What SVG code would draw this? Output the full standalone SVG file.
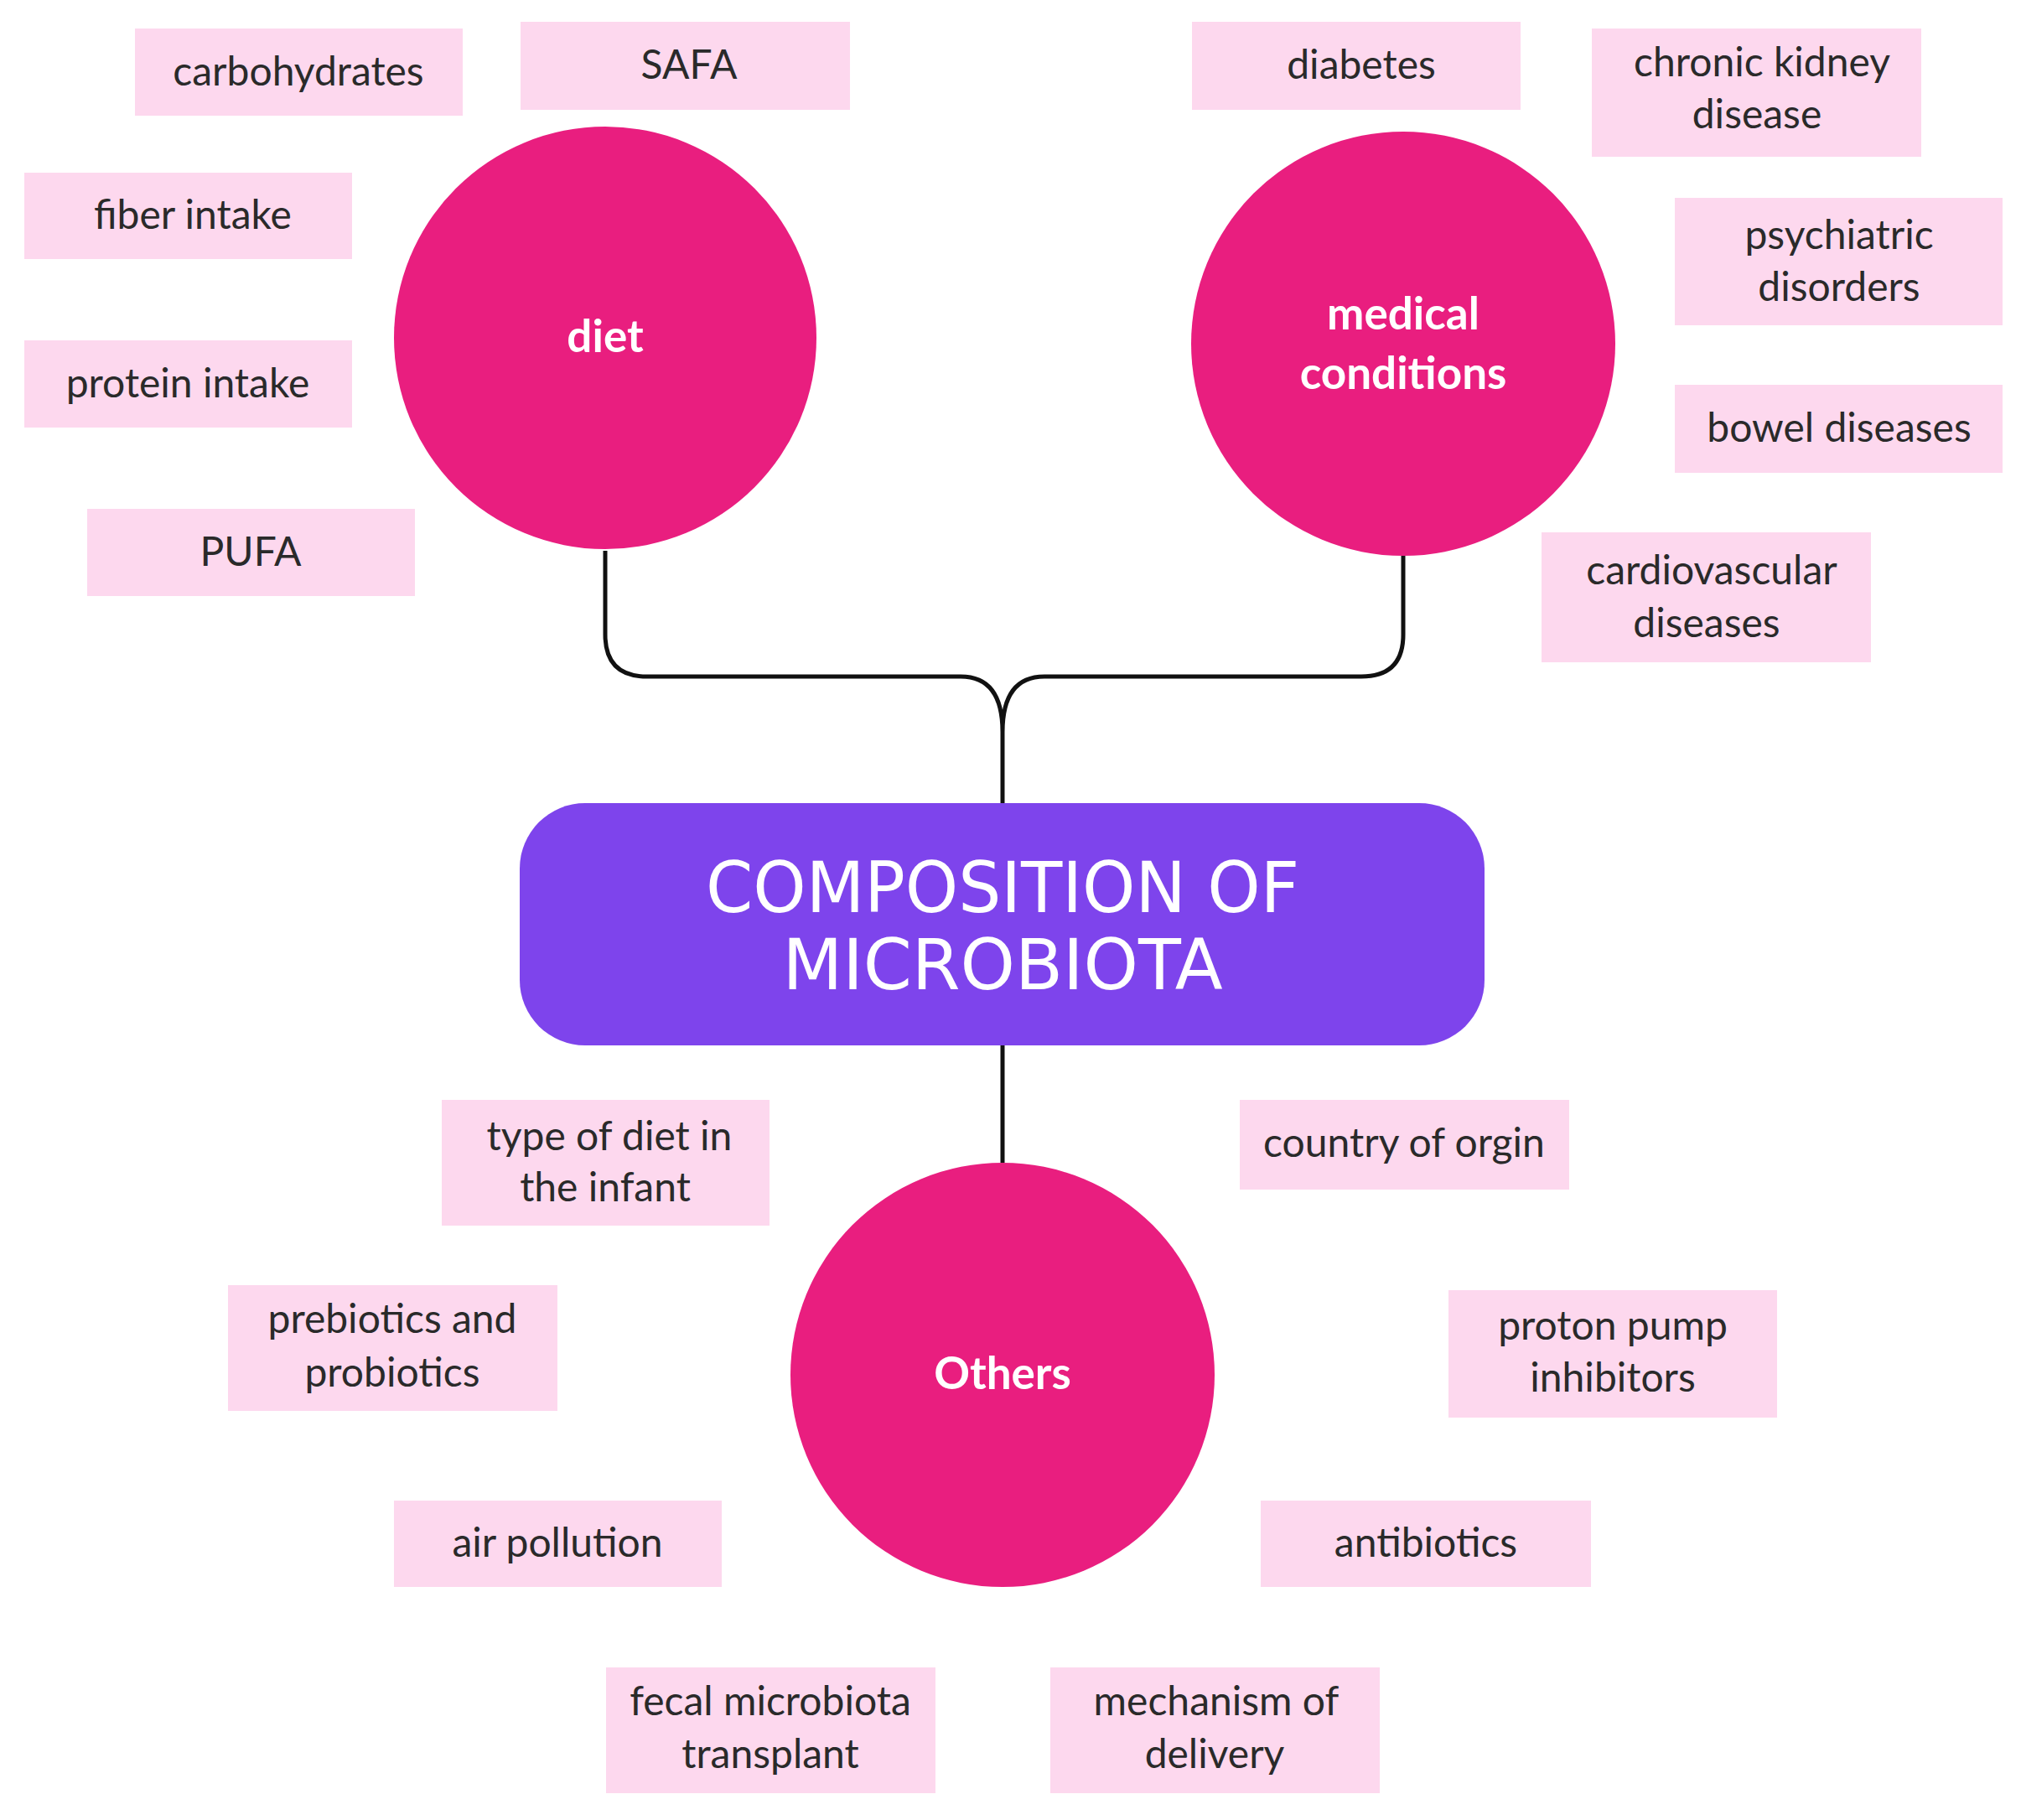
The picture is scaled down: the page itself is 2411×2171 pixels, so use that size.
<svg xmlns="http://www.w3.org/2000/svg" width="2411" height="2171" viewBox="0 0 2411 2171">
<style>
.b{fill:#fdd8ee}
.t{font-family:Lato,"Open Sans","Liberation Sans",sans-serif;font-size:48px;fill:#2a2a2a;text-anchor:middle}
.c{fill:#e91e7f}
.ct{font-family:Lato,"Open Sans","Liberation Sans",sans-serif;font-size:53px;font-weight:bold;fill:#fff;text-anchor:middle}
.l{fill:none;stroke:#111;stroke-width:5}
.h{font-family:'DejaVu Sans Condensed','Liberation Sans',sans-serif;font-size:84px;fill:#fff;text-anchor:middle}
</style>
<rect width="2411" height="2171" fill="#fff"/>
<g id="connectors">
<path class="l" d="M722 657 V757 Q722 807 772 807 H1146 Q1196 807 1196 873 Q1196 807 1246 807 H1624 Q1674 807 1674 757 V663"/>
<path class="l" d="M1196 873 V958"/>
<path class="l" d="M1196 1247 V1387"/>
</g>
<g id="diet"><circle class="c" cx="722" cy="403" r="252"/><text class="ct" x="722" y="420">diet</text></g>
<g id="medical"><circle class="c" cx="1674" cy="410" r="253"/><text class="ct" x="1674" y="393">medical</text><text class="ct" x="1674" y="464">conditions</text></g>
<g id="others"><circle class="c" cx="1196" cy="1640" r="253"/><text class="ct" x="1196" y="1657">Others</text></g>
<g id="center"><rect x="620" y="958" width="1151" height="289" rx="78" fill="#7e44ec"/>
<text class="h" x="1196" y="1088" textLength="708" lengthAdjust="spacingAndGlyphs">COMPOSITION OF</text>
<text class="h" x="1196" y="1180" textLength="525" lengthAdjust="spacingAndGlyphs">MICROBIOTA</text></g>
<g id="carbohydrates"><rect class="b" x="161" y="34" width="391" height="104"/><text class="t" x="356" y="102">carbohydrates</text></g>
<g id="safa"><rect class="b" x="621" y="26" width="393" height="105"/><text class="t" x="822" y="94">SAFA</text></g>
<g id="fiber"><rect class="b" x="29" y="206" width="391" height="103"/><text class="t" x="230" y="273">fiber intake</text></g>
<g id="protein"><rect class="b" x="29" y="406" width="391" height="104"/><text class="t" x="224" y="474">protein intake</text></g>
<g id="pufa"><rect class="b" x="104" y="607" width="391" height="104"/><text class="t" x="299" y="675">PUFA</text></g>
<g id="diabetes"><rect class="b" x="1422" y="26" width="392" height="105"/><text class="t" x="1624" y="94">diabetes</text></g>
<g id="ckd"><rect class="b" x="1899" y="34" width="393" height="153"/><text class="t" x="2102" y="91">chronic kidney</text><text class="t" x="2096" y="153">disease</text></g>
<g id="psych"><rect class="b" x="1998" y="236" width="391" height="152"/><text class="t" x="2194" y="297">psychiatric</text><text class="t" x="2194" y="359">disorders</text></g>
<g id="bowel"><rect class="b" x="1998" y="459" width="391" height="105"/><text class="t" x="2194" y="527">bowel diseases</text></g>
<g id="cardio"><rect class="b" x="1839" y="635" width="393" height="155"/><text class="t" x="2042" y="697">cardiovascular</text><text class="t" x="2036" y="760">diseases</text></g>
<g id="infant"><rect class="b" x="527" y="1312" width="391" height="150"/><text class="t" x="727" y="1372">type of diet in</text><text class="t" x="722" y="1433">the infant</text></g>
<g id="country"><rect class="b" x="1479" y="1312" width="393" height="107"/><text class="t" x="1675" y="1380">country of orgin</text></g>
<g id="prebiotics"><rect class="b" x="272" y="1533" width="393" height="150"/><text class="t" x="468" y="1590">prebiotics and</text><text class="t" x="468" y="1654">probiotics</text></g>
<g id="ppi"><rect class="b" x="1728" y="1539" width="392" height="152"/><text class="t" x="1924" y="1598">proton pump</text><text class="t" x="1924" y="1660">inhibitors</text></g>
<g id="air"><rect class="b" x="470" y="1790" width="391" height="103"/><text class="t" x="665" y="1857">air pollution</text></g>
<g id="antibiotics"><rect class="b" x="1504" y="1790" width="394" height="103"/><text class="t" x="1701" y="1857">antibiotics</text></g>
<g id="fecal"><rect class="b" x="723" y="1989" width="393" height="150"/><text class="t" x="919" y="2046">fecal microbiota</text><text class="t" x="919" y="2109">transplant</text></g>
<g id="mechanism"><rect class="b" x="1253" y="1989" width="393" height="150"/><text class="t" x="1451" y="2046">mechanism of</text><text class="t" x="1449" y="2109">delivery</text></g>
</svg>
